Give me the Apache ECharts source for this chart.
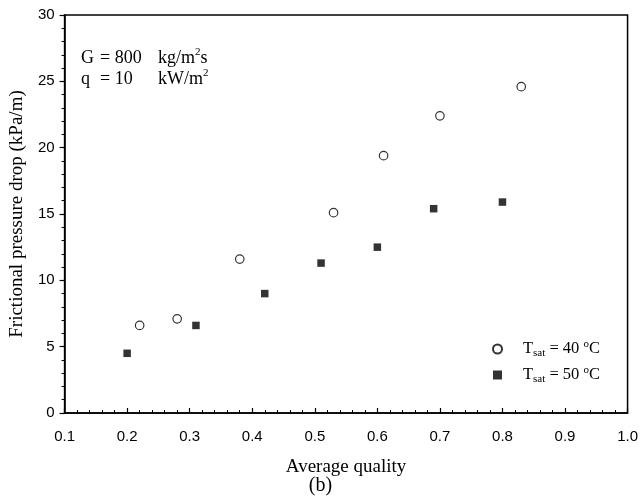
<!DOCTYPE html>
<html>
<head>
<meta charset="utf-8">
<script src="https://cdn.jsdelivr.net/npm/echarts@6/dist/echarts.min.js"></script>
<style>
html,body{margin:0;padding:0;background:#fff;}
#chart{width:641px;height:502px;}
</style>
</head>
<body>
<div id="chart"></div>
<script>
// Data
const quality40 = [0.22, 0.28, 0.38, 0.53, 0.61, 0.70, 0.83];
const dp40      = [6.6, 7.1, 11.6, 15.1, 19.4, 22.4, 24.6];
const quality50 = [0.20, 0.31, 0.42, 0.51, 0.60, 0.69, 0.80];
const dp50      = [4.5, 6.6, 9.0, 11.3, 12.5, 15.4, 15.9];
const xTicks = [0.1, 0.2, 0.3, 0.4, 0.5, 0.6, 0.7, 0.8, 0.9, 1.0];
const yTicks = [0, 5, 10, 15, 20, 25, 30];

const serif = '"Liberation Serif", "DejaVu Serif", serif';
const sans = '"Liberation Sans", Arial, sans-serif';

const chart = echarts.init(document.getElementById('chart'), null, {renderer: 'canvas'});

const richLegend = {
  t: {fontFamily: serif, fontSize: 16.5, color: '#000', lineHeight: 20, verticalAlign: 'middle'},
  sub: {fontFamily: serif, fontSize: 11, color: '#000', lineHeight: 20, verticalAlign: 'bottom'},
  sup: {fontFamily: serif, fontSize: 11, color: '#000', lineHeight: 20, verticalAlign: 'top'}
};
const richNote = {
  t: {fontFamily: serif, fontSize: 18, fill: '#000', lineHeight: 22, verticalAlign: 'middle'},
  sup: {fontFamily: serif, fontSize: 11, fill: '#000', lineHeight: 22, verticalAlign: 'top'}
};
function note(x, y, text) {
  return {type: 'text', x: x, y: y, style: {text: text, rich: richNote, verticalAlign: 'middle', align: 'left'}};
}

chart.setOption({
  animation: false,
  backgroundColor: '#fff',
  grid: {left: 63, right: 12, top: 15, bottom: 89, show: true, borderColor: '#000', borderWidth: 1.5},
  legend: {
    orient: 'vertical',
    left: 487,
    top: 334,
    itemWidth: 9,
    itemHeight: 9,
    itemGap: 6,
    data: [{name: 'T40'}, {name: 'T50'}],
    formatter: function (name) {
      const v = name === 'T40' ? '40' : '50';
      return '{t|T}{sub|sat}{t| = ' + v + ' }{sup|o}{t|C}';
    },
    textStyle: {rich: richLegend, padding: [0, 0, 0, 16]}
  },
  xAxis: {
    type: 'value',
    min: xTicks[0],
    max: xTicks[xTicks.length - 1],
    interval: 0.1,
    name: 'Average quality',
    nameLocation: 'middle',
    nameGap: 45,
    nameTextStyle: {fontFamily: serif, fontSize: 19, color: '#000'},
    axisLine: {show: true, onZero: false, lineStyle: {color: '#000', width: 1.5}},
    axisTick: {show: true, inside: true, length: 5, lineStyle: {color: '#000', width: 1.2}},
    minorTick: {show: true, splitNumber: 5, length: 3, lineStyle: {color: '#000', width: 1}},
    axisLabel: {
      margin: 16,
      fontFamily: sans, fontSize: 15, color: '#000',
      formatter: v => v.toFixed(1)
    },
    splitLine: {show: false}
  },
  yAxis: {
    type: 'value',
    min: yTicks[0],
    max: yTicks[yTicks.length - 1],
    interval: 5,
    name: 'Frictional pressure drop (kPa/m)',
    nameLocation: 'middle',
    nameGap: 36,
    nameTextStyle: {fontFamily: serif, fontSize: 19, color: '#000'},
    axisLine: {show: true, onZero: false, lineStyle: {color: '#000', width: 1.5}},
    axisTick: {show: true, inside: false, length: 5, lineStyle: {color: '#000', width: 1.2}},
    minorTick: {show: true, splitNumber: 5, length: 3, lineStyle: {color: '#000', width: 1}},
    axisLabel: {margin: 10, fontFamily: sans, fontSize: 15, color: '#000'},
    splitLine: {show: false}
  },
  series: [
    {
      name: 'T40',
      type: 'scatter',
      symbol: 'circle',
      symbolSize: 8.5,
      itemStyle: {color: '#fff', borderColor: '#000', borderWidth: 1.2},
      data: quality40.map((x, i) => [x, dp40[i]])
    },
    {
      name: 'T50',
      type: 'scatter',
      symbol: 'rect',
      symbolSize: 7.5,
      itemStyle: {color: '#000', borderColor: '#000', borderWidth: 0},
      data: quality50.map((x, i) => [x, dp50[i]])
    }
  ],
  graphic: [
    note(81, 58, '{t|G}'),
    note(100, 58, '{t|= 800}'),
    note(158, 58, '{t|kg/m}{sup|2}{t|s}'),
    note(81, 79, '{t|q}'),
    note(100, 79, '{t|= 10}'),
    note(158, 79, '{t|kW/m}{sup|2}'),
    {
      type: 'text', left: 'center', top: 476,
      style: {text: '(b)', fontFamily: serif, fontSize: 20, fill: '#000'}
    }
  ]
});
</script>
</body>
</html>
